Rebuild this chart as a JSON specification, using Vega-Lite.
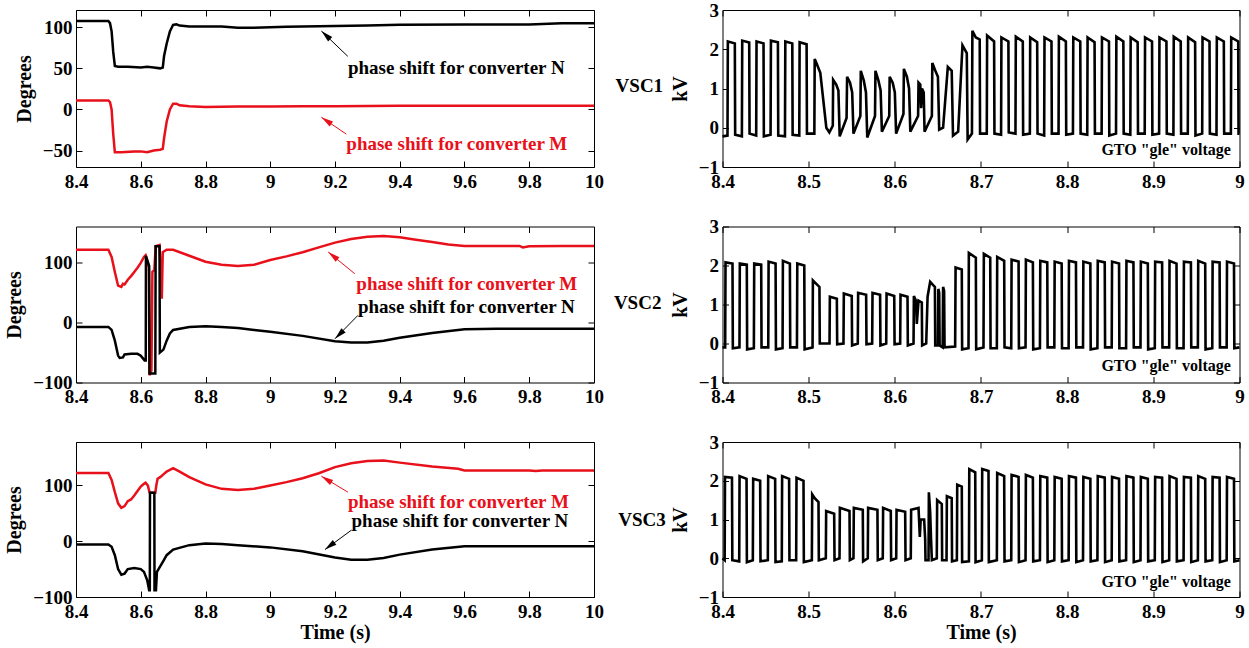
{
"$schema": "https://vega.github.io/schema/vega-lite/v6.json",
"background": "white",
"padding": {"left": 4, "top": 0, "right": 5, "bottom": 5},
"config": {
 "view": {"stroke": "#000000", "strokeWidth": 1},
 "axis": {"grid": false, "domain": false, "tickColor": "#000", "tickSize": -6, "tickWidth": 1, "labelFont": "Liberation Serif", "labelFontSize": 19, "labelFontWeight": "bold", "labelColor": "#000", "labelPadding": 10, "labelFlush": false, "labelOverlap": false, "titleFont": "Liberation Serif", "titleFontSize": 20, "titleFontWeight": "bold", "titleColor": "#000", "titlePadding": 8},
 "axisX": {"labelPadding": 11, "titlePadding": 1}
},
"datasets": {
 "L1": [
  {"t":8.4,"v":11,"s":"M"},{"t":8.5,"v":11,"s":"M"},{"t":8.505,"v":9,"s":"M"},{"t":8.51,"v":0,"s":"M"},{"t":8.515,"v":-30,"s":"M"},{"t":8.52,"v":-52,"s":"M"},{"t":8.54,"v":-52,"s":"M"},{"t":8.58,"v":-51,"s":"M"},{"t":8.6,"v":-51,"s":"M"},{"t":8.62,"v":-52,"s":"M"},{"t":8.64,"v":-50,"s":"M"},{"t":8.66,"v":-49,"s":"M"},{"t":8.668,"v":-48,"s":"M"},{"t":8.672,"v":-35,"s":"M"},{"t":8.68,"v":-15,"s":"M"},{"t":8.69,"v":0,"s":"M"},{"t":8.7,"v":7,"s":"M"},{"t":8.71,"v":7,"s":"M"},{"t":8.72,"v":5,"s":"M"},{"t":8.75,"v":4,"s":"M"},{"t":8.8,"v":3,"s":"M"},{"t":8.9,"v":3.5,"s":"M"},{"t":9,"v":3.5,"s":"M"},{"t":9.1,"v":4,"s":"M"},{"t":9.2,"v":4,"s":"M"},{"t":9.4,"v":4.5,"s":"M"},{"t":9.6,"v":4.5,"s":"M"},{"t":9.8,"v":4.5,"s":"M"},{"t":10,"v":4.5,"s":"M"},
  {"t":8.4,"v":107.5,"s":"N"},{"t":8.5,"v":107.5,"s":"N"},{"t":8.505,"v":105,"s":"N"},{"t":8.51,"v":95,"s":"N"},{"t":8.515,"v":70,"s":"N"},{"t":8.52,"v":53,"s":"N"},{"t":8.53,"v":52,"s":"N"},{"t":8.56,"v":52,"s":"N"},{"t":8.6,"v":51,"s":"N"},{"t":8.62,"v":52,"s":"N"},{"t":8.64,"v":51,"s":"N"},{"t":8.66,"v":50,"s":"N"},{"t":8.668,"v":51,"s":"N"},{"t":8.672,"v":65,"s":"N"},{"t":8.68,"v":80,"s":"N"},{"t":8.69,"v":95,"s":"N"},{"t":8.7,"v":103,"s":"N"},{"t":8.71,"v":103.5,"s":"N"},{"t":8.72,"v":102,"s":"N"},{"t":8.75,"v":101,"s":"N"},{"t":8.8,"v":101,"s":"N"},{"t":8.85,"v":101,"s":"N"},{"t":8.9,"v":99.5,"s":"N"},{"t":8.95,"v":99.5,"s":"N"},{"t":9,"v":100,"s":"N"},{"t":9.05,"v":100.5,"s":"N"},{"t":9.1,"v":101,"s":"N"},{"t":9.2,"v":101.5,"s":"N"},{"t":9.3,"v":102,"s":"N"},{"t":9.4,"v":103,"s":"N"},{"t":9.6,"v":103.5,"s":"N"},{"t":9.8,"v":103.5,"s":"N"},{"t":9.9,"v":105,"s":"N"},{"t":10,"v":105,"s":"N"}
 ],
 "L2": [
  {"t":8.4,"v":122,"s":"M"},{"t":8.5,"v":122,"s":"M"},{"t":8.51,"v":110,"s":"M"},{"t":8.52,"v":85,"s":"M"},{"t":8.53,"v":62,"s":"M"},{"t":8.54,"v":60,"s":"M"},{"t":8.545,"v":65,"s":"M"},{"t":8.55,"v":64,"s":"M"},{"t":8.56,"v":72,"s":"M"},{"t":8.57,"v":78,"s":"M"},{"t":8.58,"v":85,"s":"M"},{"t":8.59,"v":92,"s":"M"},{"t":8.6,"v":100,"s":"M"},{"t":8.61,"v":110,"s":"M"},{"t":8.615,"v":113,"s":"M"},{"t":8.625,"v":92,"s":"M"},{"t":8.627,"v":-88,"s":"M"},{"t":8.633,"v":-80,"s":"M"},{"t":8.636,"v":85,"s":"M"},{"t":8.642,"v":88,"s":"M"},{"t":8.646,"v":128,"s":"M"},{"t":8.658,"v":130,"s":"M"},{"t":8.665,"v":40,"s":"M"},{"t":8.668,"v":118,"s":"M"},{"t":8.68,"v":122,"s":"M"},{"t":8.7,"v":122,"s":"M"},{"t":8.75,"v":112,"s":"M"},{"t":8.8,"v":102,"s":"M"},{"t":8.85,"v":97,"s":"M"},{"t":8.9,"v":95,"s":"M"},{"t":8.95,"v":97,"s":"M"},{"t":9,"v":105,"s":"M"},{"t":9.05,"v":111,"s":"M"},{"t":9.1,"v":118,"s":"M"},{"t":9.15,"v":126,"s":"M"},{"t":9.2,"v":134,"s":"M"},{"t":9.25,"v":140,"s":"M"},{"t":9.3,"v":144,"s":"M"},{"t":9.35,"v":145,"s":"M"},{"t":9.4,"v":143,"s":"M"},{"t":9.45,"v":139,"s":"M"},{"t":9.5,"v":135,"s":"M"},{"t":9.55,"v":131,"s":"M"},{"t":9.6,"v":128.5,"s":"M"},{"t":9.7,"v":128.5,"s":"M"},{"t":9.77,"v":128.5,"s":"M"},{"t":9.78,"v":126,"s":"M"},{"t":9.8,"v":128,"s":"M"},{"t":9.9,"v":128.5,"s":"M"},{"t":10,"v":128.5,"s":"M"},
  {"t":8.4,"v":-7,"s":"N"},{"t":8.5,"v":-7,"s":"N"},{"t":8.51,"v":-12,"s":"N"},{"t":8.52,"v":-30,"s":"N"},{"t":8.53,"v":-55,"s":"N"},{"t":8.535,"v":-59,"s":"N"},{"t":8.545,"v":-58,"s":"N"},{"t":8.55,"v":-53,"s":"N"},{"t":8.57,"v":-52,"s":"N"},{"t":8.59,"v":-52,"s":"N"},{"t":8.6,"v":-55,"s":"N"},{"t":8.612,"v":-63,"s":"N"},{"t":8.6155,"v":-63,"s":"N"},{"t":8.616,"v":112,"s":"N"},{"t":8.626,"v":95,"s":"N"},{"t":8.627,"v":-85,"s":"N"},{"t":8.645,"v":-85,"s":"N"},{"t":8.646,"v":128,"s":"N"},{"t":8.658,"v":128,"s":"N"},{"t":8.659,"v":-50,"s":"N"},{"t":8.67,"v":-45,"s":"N"},{"t":8.68,"v":-30,"s":"N"},{"t":8.69,"v":-18,"s":"N"},{"t":8.7,"v":-12,"s":"N"},{"t":8.75,"v":-7,"s":"N"},{"t":8.8,"v":-6,"s":"N"},{"t":8.85,"v":-7,"s":"N"},{"t":8.9,"v":-9,"s":"N"},{"t":8.95,"v":-12,"s":"N"},{"t":9,"v":-15,"s":"N"},{"t":9.1,"v":-22,"s":"N"},{"t":9.2,"v":-31,"s":"N"},{"t":9.25,"v":-33,"s":"N"},{"t":9.3,"v":-33,"s":"N"},{"t":9.35,"v":-30,"s":"N"},{"t":9.4,"v":-25,"s":"N"},{"t":9.5,"v":-17,"s":"N"},{"t":9.6,"v":-11,"s":"N"},{"t":9.7,"v":-10,"s":"N"},{"t":9.8,"v":-10,"s":"N"},{"t":9.9,"v":-10,"s":"N"},{"t":10,"v":-10,"s":"N"}
 ],
 "L3": [
  {"t":8.4,"v":122.5,"s":"M"},{"t":8.5,"v":122.5,"s":"M"},{"t":8.51,"v":110,"s":"M"},{"t":8.52,"v":88,"s":"M"},{"t":8.53,"v":68,"s":"M"},{"t":8.54,"v":60,"s":"M"},{"t":8.55,"v":63,"s":"M"},{"t":8.56,"v":72,"s":"M"},{"t":8.57,"v":75,"s":"M"},{"t":8.58,"v":82,"s":"M"},{"t":8.59,"v":90,"s":"M"},{"t":8.6,"v":98,"s":"M"},{"t":8.61,"v":103,"s":"M"},{"t":8.615,"v":105,"s":"M"},{"t":8.622,"v":100,"s":"M"},{"t":8.626,"v":90,"s":"M"},{"t":8.628,"v":87,"s":"M"},{"t":8.645,"v":87,"s":"M"},{"t":8.648,"v":100,"s":"M"},{"t":8.652,"v":112,"s":"M"},{"t":8.66,"v":115,"s":"M"},{"t":8.67,"v":120,"s":"M"},{"t":8.68,"v":125,"s":"M"},{"t":8.7,"v":131,"s":"M"},{"t":8.72,"v":125,"s":"M"},{"t":8.75,"v":115,"s":"M"},{"t":8.8,"v":102,"s":"M"},{"t":8.85,"v":94,"s":"M"},{"t":8.9,"v":92,"s":"M"},{"t":8.95,"v":94,"s":"M"},{"t":9,"v":100,"s":"M"},{"t":9.05,"v":106,"s":"M"},{"t":9.1,"v":113,"s":"M"},{"t":9.15,"v":122,"s":"M"},{"t":9.2,"v":133,"s":"M"},{"t":9.25,"v":140,"s":"M"},{"t":9.3,"v":144,"s":"M"},{"t":9.35,"v":145,"s":"M"},{"t":9.4,"v":141,"s":"M"},{"t":9.5,"v":134,"s":"M"},{"t":9.58,"v":130,"s":"M"},{"t":9.6,"v":127,"s":"M"},{"t":9.7,"v":127,"s":"M"},{"t":9.8,"v":127,"s":"M"},{"t":9.82,"v":126,"s":"M"},{"t":9.84,"v":127,"s":"M"},{"t":10,"v":127,"s":"M"},
  {"t":8.4,"v":-6,"s":"N"},{"t":8.5,"v":-6,"s":"N"},{"t":8.51,"v":-10,"s":"N"},{"t":8.52,"v":-25,"s":"N"},{"t":8.53,"v":-50,"s":"N"},{"t":8.54,"v":-60,"s":"N"},{"t":8.55,"v":-58,"s":"N"},{"t":8.56,"v":-50,"s":"N"},{"t":8.58,"v":-48,"s":"N"},{"t":8.6,"v":-50,"s":"N"},{"t":8.61,"v":-55,"s":"N"},{"t":8.62,"v":-70,"s":"N"},{"t":8.626,"v":-88,"s":"N"},{"t":8.628,"v":-88,"s":"N"},{"t":8.6285,"v":87,"s":"N"},{"t":8.642,"v":87,"s":"N"},{"t":8.6425,"v":-88,"s":"N"},{"t":8.647,"v":-88,"s":"N"},{"t":8.65,"v":-55,"s":"N"},{"t":8.66,"v":-45,"s":"N"},{"t":8.67,"v":-35,"s":"N"},{"t":8.68,"v":-25,"s":"N"},{"t":8.7,"v":-15,"s":"N"},{"t":8.75,"v":-7,"s":"N"},{"t":8.8,"v":-4,"s":"N"},{"t":8.85,"v":-5,"s":"N"},{"t":8.9,"v":-7,"s":"N"},{"t":9,"v":-11,"s":"N"},{"t":9.1,"v":-18,"s":"N"},{"t":9.2,"v":-29,"s":"N"},{"t":9.25,"v":-33,"s":"N"},{"t":9.3,"v":-33,"s":"N"},{"t":9.35,"v":-30,"s":"N"},{"t":9.4,"v":-24,"s":"N"},{"t":9.5,"v":-15,"s":"N"},{"t":9.6,"v":-9,"s":"N"},{"t":9.7,"v":-9,"s":"N"},{"t":10,"v":-9,"s":"N"}
 ],
 "T1": [{"t":9.24,"v":51,"label":"phase shift for converter N","s":"N"},{"t":9.235,"v":-42.5,"label":"phase shift for converter M","s":"M"}],
 "A1": [{"t":9.2396,"v":64.6,"t2":9.158,"v2":95.4,"s":"N"},{"t":9.235,"v":-30,"t2":9.158,"v2":-9.5,"s":"M"}],
 "T2": [{"t":9.266,"v":65.3,"label":"phase shift for converter M","s":"M"},{"t":9.271,"v":26.3,"label":"phase shift for converter N","s":"N"}],
 "A2": [{"t":9.261,"v":82,"t2":9.179,"v2":118.4,"s":"M"},{"t":9.271,"v":12.4,"t2":9.2,"v2":-26.8,"s":"N"}],
 "T3": [{"t":9.24,"v":70,"label":"phase shift for converter M","s":"M"},{"t":9.251,"v":35.5,"label":"phase shift for converter N","s":"N"}],
 "A3": [{"t":9.24,"v":88,"t2":9.158,"v2":116.7,"s":"M"},{"t":9.251,"v":20,"t2":9.169,"v2":-15,"s":"N"}],
 "G1": [{"t":8.99,"v":-0.56,"label":"GTO \"gle\" voltage"}],
 "G2": [{"t":8.99,"v":-0.57,"label":"GTO \"gle\" voltage"}],
 "G3": [{"t":8.99,"v":-0.6,"label":"GTO \"gle\" voltage"}],
 "V1": [{"t":8.3035,"v":1.06,"label":"VSC1"}],
 "V2": [{"t":8.3015,"v":1.03,"label":"VSC2"}],
 "V3": [{"t":8.3065,"v":1.0,"label":"VSC3"}],
 "R1": [
  {"t":8.4,"v":-0.22},
  {"t":8.4058,"v":-0.2},{"t":8.4062,"v":2.2},{"t":8.4143,"v":2.15},{"t":8.4147,"v":-0.18},
  {"t":8.4225,"v":-0.22},{"t":8.4229,"v":2.22},{"t":8.431,"v":2.17},{"t":8.4314,"v":-0.15},
  {"t":8.4391,"v":-0.2},{"t":8.4395,"v":2.2},{"t":8.4476,"v":2.15},{"t":8.448,"v":-0.22},
  {"t":8.4558,"v":-0.18},{"t":8.4562,"v":2.22},{"t":8.4643,"v":2.18},{"t":8.4647,"v":-0.2},
  {"t":8.4725,"v":-0.22},{"t":8.4729,"v":2.2},{"t":8.481,"v":2.15},{"t":8.4814,"v":-0.18},
  {"t":8.4891,"v":-0.2},{"t":8.4895,"v":2.18},{"t":8.4976,"v":2.13},{"t":8.498,"v":-0.15},
  {"t":8.5066,"v":-0.15},{"t":8.507,"v":1.75},{"t":8.509,"v":1.65},{"t":8.5135,"v":1.4},{"t":8.5205,"v":0.0},{"t":8.524,"v":-0.12},
  {"t":8.528,"v":0.05},{"t":8.5284,"v":1.22},{"t":8.532,"v":1.1},{"t":8.5345,"v":0.95},{"t":8.536,"v":-0.22},
  {"t":8.544,"v":0.25},{"t":8.5446,"v":1.3},{"t":8.548,"v":1.15},{"t":8.5505,"v":0.9},{"t":8.552,"v":-0.15},
  {"t":8.56,"v":0.3},{"t":8.5605,"v":1.45},{"t":8.564,"v":1.2},{"t":8.5665,"v":0.9},{"t":8.568,"v":-0.25},
  {"t":8.577,"v":0.3},{"t":8.5775,"v":1.45},{"t":8.581,"v":1.2},{"t":8.5835,"v":0.95},{"t":8.585,"v":-0.1},
  {"t":8.5935,"v":0.3},{"t":8.594,"v":1.3},{"t":8.5975,"v":1.15},{"t":8.6,"v":0.9},{"t":8.6015,"v":-0.15},
  {"t":8.61,"v":0.35},{"t":8.6105,"v":1.5},{"t":8.614,"v":1.3},{"t":8.6165,"v":1.0},{"t":8.618,"v":-0.1},
  {"t":8.627,"v":0.3},{"t":8.6275,"v":1.15},{"t":8.6295,"v":1.1},{"t":8.6305,"v":0.5},{"t":8.6315,"v":1.0},{"t":8.6335,"v":0.9},{"t":8.6345,"v":-0.1},
  {"t":8.643,"v":0.3},{"t":8.6435,"v":1.65},{"t":8.647,"v":1.45},{"t":8.65,"v":1.3},{"t":8.6515,"v":-0.05},{"t":8.656,"v":0.0},
  {"t":8.6615,"v":1.55},{"t":8.666,"v":1.45},{"t":8.6675,"v":-0.2},{"t":8.6735,"v":-0.1},
  {"t":8.6785,"v":2.1},{"t":8.6835,"v":1.9},{"t":8.6845,"v":-0.3},{"t":8.6895,"v":-0.15},
  {"t":8.69,"v":2.47},{"t":8.694,"v":2.3},{"t":8.6985,"v":2.25},{"t":8.6989,"v":-0.15},
  {"t":8.7067,"v":-0.15},{"t":8.7071,"v":2.35},{"t":8.7152,"v":2.2},{"t":8.7156,"v":-0.15},
  {"t":8.7233,"v":-0.18},{"t":8.7237,"v":2.3},{"t":8.7318,"v":2.2},{"t":8.7322,"v":-0.12},
  {"t":8.74,"v":-0.15},{"t":8.7404,"v":2.32},{"t":8.7485,"v":2.2},{"t":8.7489,"v":-0.18},
  {"t":8.7567,"v":-0.15},{"t":8.7571,"v":2.3},{"t":8.7652,"v":2.18},{"t":8.7656,"v":-0.15},
  {"t":8.7733,"v":-0.2},{"t":8.7737,"v":2.3},{"t":8.7818,"v":2.2},{"t":8.7822,"v":-0.15},
  {"t":8.79,"v":-0.15},{"t":8.7904,"v":2.32},{"t":8.7985,"v":2.2},{"t":8.7989,"v":-0.18},
  {"t":8.8067,"v":-0.15},{"t":8.8071,"v":2.3},{"t":8.8152,"v":2.2},{"t":8.8156,"v":-0.15},
  {"t":8.8233,"v":-0.18},{"t":8.8237,"v":2.3},{"t":8.8318,"v":2.18},{"t":8.8322,"v":-0.15},
  {"t":8.84,"v":-0.15},{"t":8.8404,"v":2.3},{"t":8.8485,"v":2.2},{"t":8.8489,"v":-0.2},
  {"t":8.8567,"v":-0.15},{"t":8.8571,"v":2.32},{"t":8.8652,"v":2.2},{"t":8.8656,"v":-0.15},
  {"t":8.8733,"v":-0.18},{"t":8.8737,"v":2.3},{"t":8.8818,"v":2.18},{"t":8.8822,"v":-0.15},
  {"t":8.89,"v":-0.15},{"t":8.8904,"v":2.3},{"t":8.8985,"v":2.2},{"t":8.8989,"v":-0.18},
  {"t":8.9067,"v":-0.15},{"t":8.9071,"v":2.3},{"t":8.9152,"v":2.2},{"t":8.9156,"v":-0.15},
  {"t":8.9233,"v":-0.18},{"t":8.9237,"v":2.32},{"t":8.9318,"v":2.2},{"t":8.9322,"v":-0.15},
  {"t":8.94,"v":-0.15},{"t":8.9404,"v":2.3},{"t":8.9485,"v":2.18},{"t":8.9489,"v":-0.2},
  {"t":8.9567,"v":-0.15},{"t":8.9571,"v":2.3},{"t":8.9652,"v":2.2},{"t":8.9656,"v":-0.15},
  {"t":8.9733,"v":-0.18},{"t":8.9737,"v":2.3},{"t":8.9818,"v":2.2},{"t":8.9822,"v":-0.15},
  {"t":8.99,"v":-0.15},{"t":8.9904,"v":2.3},{"t":8.9985,"v":2.2},{"t":8.9989,"v":-0.15},{"t":9.0,"v":-0.15}
 ],
 "R2": [
  {"t":8.4,"v":-0.1},
  {"t":8.4031,"v":-0.1},{"t":8.4035,"v":2.08},{"t":8.4116,"v":2.05},{"t":8.412,"v":-0.12},
  {"t":8.4197,"v":-0.1},{"t":8.4201,"v":2.05},{"t":8.4282,"v":2.02},{"t":8.4286,"v":-0.15},
  {"t":8.4364,"v":-0.12},{"t":8.4368,"v":2.05},{"t":8.4449,"v":2.02},{"t":8.4453,"v":-0.1},
  {"t":8.4531,"v":-0.1},{"t":8.4535,"v":2.1},{"t":8.4616,"v":2.05},{"t":8.462,"v":-0.15},
  {"t":8.4697,"v":-0.12},{"t":8.4701,"v":2.12},{"t":8.4782,"v":2.05},{"t":8.4786,"v":-0.1},
  {"t":8.4864,"v":-0.1},{"t":8.4868,"v":2.05},{"t":8.4949,"v":2.0},{"t":8.4953,"v":-0.15},
  {"t":8.5045,"v":-0.1},{"t":8.5049,"v":1.62},{"t":8.508,"v":1.55},{"t":8.5125,"v":1.45},{"t":8.5129,"v":0.0},
  {"t":8.5242,"v":0.0},{"t":8.5246,"v":1.2},{"t":8.5327,"v":1.15},{"t":8.5331,"v":-0.02},
  {"t":8.5404,"v":0.0},{"t":8.5408,"v":1.28},{"t":8.55,"v":1.22},{"t":8.5504,"v":-0.05},
  {"t":8.557,"v":0.0},{"t":8.5574,"v":1.3},{"t":8.5667,"v":1.25},{"t":8.5671,"v":-0.02},
  {"t":8.5737,"v":0.0},{"t":8.5741,"v":1.3},{"t":8.5829,"v":1.25},{"t":8.5833,"v":-0.05},
  {"t":8.59,"v":0.0},{"t":8.5904,"v":1.28},{"t":8.5993,"v":1.22},{"t":8.5997,"v":-0.02},
  {"t":8.6062,"v":0.0},{"t":8.6066,"v":1.25},{"t":8.6147,"v":1.2},{"t":8.6151,"v":-0.05},
  {"t":8.6217,"v":0.0},{"t":8.6221,"v":1.22},{"t":8.6245,"v":1.1},{"t":8.6255,"v":0.5},{"t":8.6275,"v":1.1},{"t":8.6313,"v":1.05},{"t":8.6317,"v":-0.05},
  {"t":8.6364,"v":0.0},{"t":8.638,"v":1.2},{"t":8.641,"v":1.58},{"t":8.6465,"v":1.45},{"t":8.6469,"v":-0.05},
  {"t":8.65,"v":-0.05},{"t":8.6505,"v":1.4},{"t":8.6515,"v":1.3},{"t":8.652,"v":-0.05},
  {"t":8.6555,"v":-0.1},{"t":8.656,"v":1.45},{"t":8.6572,"v":1.35},{"t":8.6577,"v":-0.1},
  {"t":8.67,"v":-0.08},{"t":8.6705,"v":1.95},{"t":8.6777,"v":1.9},{"t":8.6781,"v":-0.15},
  {"t":8.6855,"v":-0.12},{"t":8.6859,"v":2.32},{"t":8.694,"v":2.2},{"t":8.6944,"v":-0.15},
  {"t":8.7029,"v":-0.1},{"t":8.7033,"v":2.3},{"t":8.7107,"v":2.2},{"t":8.7111,"v":-0.12},
  {"t":8.7184,"v":-0.12},{"t":8.7188,"v":2.22},{"t":8.7269,"v":2.12},{"t":8.7273,"v":-0.1},
  {"t":8.7351,"v":-0.12},{"t":8.7355,"v":2.15},{"t":8.7436,"v":2.1},{"t":8.744,"v":-0.12},
  {"t":8.7517,"v":-0.1},{"t":8.7521,"v":2.15},{"t":8.7602,"v":2.08},{"t":8.7606,"v":-0.15},
  {"t":8.7684,"v":-0.12},{"t":8.7688,"v":2.12},{"t":8.7769,"v":2.08},{"t":8.7773,"v":-0.1},
  {"t":8.7851,"v":-0.1},{"t":8.7855,"v":2.1},{"t":8.7936,"v":2.05},{"t":8.794,"v":-0.12},
  {"t":8.8017,"v":-0.12},{"t":8.8021,"v":2.12},{"t":8.8102,"v":2.08},{"t":8.8106,"v":-0.1},
  {"t":8.8184,"v":-0.1},{"t":8.8188,"v":2.1},{"t":8.8269,"v":2.05},{"t":8.8273,"v":-0.15},
  {"t":8.8351,"v":-0.12},{"t":8.8355,"v":2.12},{"t":8.8436,"v":2.08},{"t":8.844,"v":-0.1},
  {"t":8.8517,"v":-0.1},{"t":8.8521,"v":2.1},{"t":8.8602,"v":2.05},{"t":8.8606,"v":-0.12},
  {"t":8.8684,"v":-0.12},{"t":8.8688,"v":2.12},{"t":8.8769,"v":2.08},{"t":8.8773,"v":-0.1},
  {"t":8.8851,"v":-0.1},{"t":8.8855,"v":2.1},{"t":8.8936,"v":2.05},{"t":8.894,"v":-0.15},
  {"t":8.9017,"v":-0.12},{"t":8.9021,"v":2.1},{"t":8.9102,"v":2.08},{"t":8.9106,"v":-0.1},
  {"t":8.9184,"v":-0.1},{"t":8.9188,"v":2.12},{"t":8.9269,"v":2.05},{"t":8.9273,"v":-0.12},
  {"t":8.9351,"v":-0.12},{"t":8.9355,"v":2.1},{"t":8.9436,"v":2.08},{"t":8.944,"v":-0.1},
  {"t":8.9517,"v":-0.1},{"t":8.9521,"v":2.12},{"t":8.9602,"v":2.05},{"t":8.9606,"v":-0.15},
  {"t":8.9684,"v":-0.12},{"t":8.9688,"v":2.1},{"t":8.9769,"v":2.08},{"t":8.9773,"v":-0.1},
  {"t":8.9851,"v":-0.1},{"t":8.9855,"v":2.1},{"t":8.9936,"v":2.05},{"t":8.994,"v":-0.12},
  {"t":9.0,"v":-0.1}
 ],
 "R3": [
  {"t":8.4,"v":0.0},
  {"t":8.4025,"v":-0.05},{"t":8.4029,"v":2.1},{"t":8.411,"v":2.08},{"t":8.4114,"v":-0.05},
  {"t":8.4194,"v":-0.08},{"t":8.4198,"v":2.12},{"t":8.4279,"v":2.05},{"t":8.4283,"v":-0.1},
  {"t":8.4352,"v":-0.05},{"t":8.4356,"v":2.05},{"t":8.4437,"v":2.0},{"t":8.4441,"v":-0.08},
  {"t":8.4526,"v":-0.05},{"t":8.453,"v":2.12},{"t":8.4611,"v":2.05},{"t":8.4615,"v":-0.1},
  {"t":8.4688,"v":-0.08},{"t":8.4692,"v":2.12},{"t":8.4773,"v":2.05},{"t":8.4777,"v":-0.05},
  {"t":8.4855,"v":-0.05},{"t":8.4859,"v":2.08},{"t":8.494,"v":2.0},{"t":8.4944,"v":-0.1},
  {"t":8.5037,"v":-0.05},{"t":8.5041,"v":1.65},{"t":8.507,"v":1.55},{"t":8.5114,"v":1.45},{"t":8.5118,"v":-0.05},
  {"t":8.5199,"v":0.0},{"t":8.5203,"v":1.22},{"t":8.5296,"v":1.15},{"t":8.53,"v":-0.05},
  {"t":8.5358,"v":0.0},{"t":8.5362,"v":1.3},{"t":8.5474,"v":1.22},{"t":8.5478,"v":-0.05},
  {"t":8.552,"v":0.0},{"t":8.5524,"v":1.3},{"t":8.5628,"v":1.25},{"t":8.5632,"v":-0.08},
  {"t":8.5686,"v":0.0},{"t":8.569,"v":1.3},{"t":8.5798,"v":1.25},{"t":8.5802,"v":-0.05},
  {"t":8.586,"v":0.0},{"t":8.5864,"v":1.3},{"t":8.5953,"v":1.22},{"t":8.5957,"v":-0.05},
  {"t":8.6016,"v":0.0},{"t":8.602,"v":1.25},{"t":8.612,"v":1.2},{"t":8.6124,"v":-0.05},
  {"t":8.6185,"v":0.0},{"t":8.6189,"v":1.25},{"t":8.6275,"v":1.3},{"t":8.629,"v":0.55},{"t":8.63,"v":1.0},{"t":8.634,"v":1.0},{"t":8.6352,"v":0.5},{"t":8.6356,"v":-0.05},
  {"t":8.6391,"v":-0.05},{"t":8.6395,"v":1.7},{"t":8.641,"v":1.2},{"t":8.642,"v":0.5},{"t":8.643,"v":-0.05},
  {"t":8.6487,"v":0.0},{"t":8.6491,"v":1.5},{"t":8.6545,"v":1.4},{"t":8.6549,"v":-0.05},
  {"t":8.66,"v":-0.05},{"t":8.6604,"v":1.6},{"t":8.666,"v":1.55},{"t":8.6664,"v":-0.08},
  {"t":8.672,"v":-0.05},{"t":8.6724,"v":1.9},{"t":8.6777,"v":1.85},{"t":8.6781,"v":-0.1},
  {"t":8.686,"v":-0.08},{"t":8.6864,"v":2.3},{"t":8.6933,"v":2.22},{"t":8.6937,"v":-0.1},
  {"t":8.701,"v":-0.05},{"t":8.7014,"v":2.3},{"t":8.7087,"v":2.25},{"t":8.7091,"v":-0.1},
  {"t":8.7184,"v":-0.05},{"t":8.7188,"v":2.2},{"t":8.7269,"v":2.12},{"t":8.7273,"v":-0.08},
  {"t":8.7351,"v":-0.05},{"t":8.7355,"v":2.15},{"t":8.7436,"v":2.1},{"t":8.744,"v":-0.1},
  {"t":8.7517,"v":-0.05},{"t":8.7521,"v":2.15},{"t":8.7602,"v":2.08},{"t":8.7606,"v":-0.08},
  {"t":8.7684,"v":-0.05},{"t":8.7688,"v":2.12},{"t":8.7769,"v":2.08},{"t":8.7773,"v":-0.1},
  {"t":8.7851,"v":-0.05},{"t":8.7855,"v":2.1},{"t":8.7936,"v":2.05},{"t":8.794,"v":-0.08},
  {"t":8.8017,"v":-0.05},{"t":8.8021,"v":2.12},{"t":8.8102,"v":2.08},{"t":8.8106,"v":-0.1},
  {"t":8.8184,"v":-0.05},{"t":8.8188,"v":2.1},{"t":8.8269,"v":2.05},{"t":8.8273,"v":-0.08},
  {"t":8.8351,"v":-0.05},{"t":8.8355,"v":2.12},{"t":8.8436,"v":2.08},{"t":8.844,"v":-0.1},
  {"t":8.8517,"v":-0.05},{"t":8.8521,"v":2.1},{"t":8.8602,"v":2.05},{"t":8.8606,"v":-0.08},
  {"t":8.8684,"v":-0.05},{"t":8.8688,"v":2.12},{"t":8.8769,"v":2.08},{"t":8.8773,"v":-0.1},
  {"t":8.8851,"v":-0.05},{"t":8.8855,"v":2.1},{"t":8.8936,"v":2.05},{"t":8.894,"v":-0.08},
  {"t":8.9017,"v":-0.05},{"t":8.9021,"v":2.1},{"t":8.9102,"v":2.08},{"t":8.9106,"v":-0.1},
  {"t":8.9184,"v":-0.05},{"t":8.9188,"v":2.12},{"t":8.9269,"v":2.05},{"t":8.9273,"v":-0.08},
  {"t":8.9351,"v":-0.05},{"t":8.9355,"v":2.1},{"t":8.9436,"v":2.08},{"t":8.944,"v":-0.1},
  {"t":8.9517,"v":-0.05},{"t":8.9521,"v":2.12},{"t":8.9602,"v":2.05},{"t":8.9606,"v":-0.08},
  {"t":8.9684,"v":-0.05},{"t":8.9688,"v":2.1},{"t":8.9769,"v":2.08},{"t":8.9773,"v":-0.1},
  {"t":8.9851,"v":-0.05},{"t":8.9855,"v":2.1},{"t":8.9936,"v":2.05},{"t":8.994,"v":-0.08},
  {"t":9.0,"v":-0.05}
 ]
},
"columns": 2,
"spacing": {"row": 59.5, "column": 128.5},
"bounds": "flush",
"concat": [
 {
  "width": 518, "height": 157,
  "resolve": {"axis": {"x": "independent", "y": "independent"}},
  "layer": [
   {"data": {"name": "L1"}, "mark": {"type": "line", "strokeWidth": 2.5},
    "encoding": {
     "x": {"field": "t", "type": "quantitative", "scale": {"domain": [8.4, 10], "nice": false, "zero": false}, "axis": {"values": [8.4,8.6,8.8,9,9.2,9.4,9.6,9.8,10], "format": ".1~f", "title": null}},
     "y": {"field": "v", "type": "quantitative", "scale": {"domain": [-70, 121], "nice": false, "zero": false}, "axis": {"values": [-50,0,50,100], "title": "Degrees"}},
     "color": {"field": "s", "type": "nominal", "scale": {"domain": ["M","N"], "range": ["#e8101a","#000000"]}, "legend": null}}},
   {"data": {"name": "T1"}, "mark": {"type": "text", "align": "left", "baseline": "middle", "fontSize": 19, "font": "Liberation Serif", "fontWeight": "bold"},
    "encoding": {
     "x": {"field": "t", "type": "quantitative", "scale": {"domain": [8.4, 10], "nice": false, "zero": false}, "axis": {"orient": "top", "labels": false, "title": null, "values": [8.4,8.6,8.8,9,9.2,9.4,9.6,9.8,10]}},
     "y": {"field": "v", "type": "quantitative", "scale": {"domain": [-70, 121], "nice": false, "zero": false}, "axis": {"orient": "right", "labels": false, "title": null, "values": [-50,0,50,100]}},
     "text": {"field": "label"},
     "color": {"field": "s", "type": "nominal", "legend": null}}},
   {"data": {"name": "A1"}, "mark": {"type": "rule", "strokeWidth": 1},
    "encoding": {
     "x": {"field": "t", "type": "quantitative", "scale": {"domain": [8.4, 10], "nice": false, "zero": false}, "axis": null},
     "y": {"field": "v", "type": "quantitative", "scale": {"domain": [-70, 121], "nice": false, "zero": false}, "axis": null},
     "x2": {"field": "t2"}, "y2": {"field": "v2"},
     "color": {"field": "s", "type": "nominal", "legend": null}}},
   {"data": {"name": "A1"}, "transform": [{"filter": "datum.s === 'N'"}], "mark": {"type": "point", "shape": "M0,0L0.6,2.4L-0.6,2.4Z", "filled": true, "size": 100, "angle": 313, "opacity": 1, "strokeWidth": 0},
    "encoding": {
     "x": {"field": "t2", "type": "quantitative", "scale": {"domain": [8.4, 10], "nice": false, "zero": false}, "axis": null},
     "y": {"field": "v2", "type": "quantitative", "scale": {"domain": [-70, 121], "nice": false, "zero": false}, "axis": null},
     "color": {"field": "s", "type": "nominal", "legend": null}}},
   {"data": {"name": "A1"}, "transform": [{"filter": "datum.s === 'M'"}], "mark": {"type": "point", "shape": "M0,0L0.6,2.4L-0.6,2.4Z", "filled": true, "size": 100, "angle": 304, "opacity": 1, "strokeWidth": 0},
    "encoding": {
     "x": {"field": "t2", "type": "quantitative", "scale": {"domain": [8.4, 10], "nice": false, "zero": false}, "axis": null},
     "y": {"field": "v2", "type": "quantitative", "scale": {"domain": [-70, 121], "nice": false, "zero": false}, "axis": null},
     "color": {"field": "s", "type": "nominal", "legend": null}}}
  ]
 },
 {
  "width": 517, "height": 157,
  "resolve": {"axis": {"x": "independent", "y": "independent"}},
  "layer": [
   {"data": {"name": "R1"}, "mark": {"type": "line", "strokeWidth": 2.6, "color": "#000"},
    "encoding": {
     "x": {"field": "t", "type": "quantitative", "scale": {"domain": [8.4, 9], "nice": false, "zero": false}, "axis": {"values": [8.4,8.5,8.6,8.7,8.8,8.9,9], "format": ".1~f", "title": null}},
     "y": {"field": "v", "type": "quantitative", "scale": {"domain": [-1, 3], "nice": false, "zero": false}, "axis": {"values": [-1,0,1,2,3], "title": "kV", "titlePadding": 8}}}},
   {"data": {"name": "G1"}, "mark": {"type": "text", "align": "right", "baseline": "middle", "fontSize": 16, "font": "Liberation Serif", "fontWeight": "bold", "color": "#000"},
    "encoding": {
     "x": {"field": "t", "type": "quantitative", "scale": {"domain": [8.4, 9], "nice": false, "zero": false}, "axis": {"orient": "top", "labels": false, "title": null, "values": [8.4,8.5,8.6,8.7,8.8,8.9,9]}},
     "y": {"field": "v", "type": "quantitative", "scale": {"domain": [-1, 3], "nice": false, "zero": false}, "axis": {"orient": "right", "labels": false, "title": null, "values": [-1,0,1,2,3]}},
     "text": {"field": "label"}}},
   {"data": {"name": "V1"}, "mark": {"type": "text", "align": "center", "baseline": "middle", "fontSize": 19, "font": "Liberation Serif", "fontWeight": "bold", "color": "#000"},
    "encoding": {
     "x": {"field": "t", "type": "quantitative", "scale": {"domain": [8.4, 9], "nice": false, "zero": false}, "axis": null},
     "y": {"field": "v", "type": "quantitative", "scale": {"domain": [-1, 3], "nice": false, "zero": false}, "axis": null},
     "text": {"field": "label"}}}
  ]
 },
 {
  "width": 518, "height": 156,
  "resolve": {"axis": {"x": "independent", "y": "independent"}},
  "layer": [
   {"data": {"name": "L2"}, "mark": {"type": "line", "strokeWidth": 2.5},
    "encoding": {
     "x": {"field": "t", "type": "quantitative", "scale": {"domain": [8.4, 10], "nice": false, "zero": false}, "axis": {"values": [8.4,8.6,8.8,9,9.2,9.4,9.6,9.8,10], "format": ".1~f", "title": null}},
     "y": {"field": "v", "type": "quantitative", "scale": {"domain": [-100, 161], "nice": false, "zero": false}, "axis": {"values": [-100,0,100], "title": "Degrees"}},
     "color": {"field": "s", "type": "nominal", "scale": {"domain": ["M","N"], "range": ["#e8101a","#000000"]}, "legend": null}}},
   {"data": {"name": "T2"}, "mark": {"type": "text", "align": "left", "baseline": "middle", "fontSize": 19, "font": "Liberation Serif", "fontWeight": "bold"},
    "encoding": {
     "x": {"field": "t", "type": "quantitative", "scale": {"domain": [8.4, 10], "nice": false, "zero": false}, "axis": {"orient": "top", "labels": false, "title": null, "values": [8.4,8.6,8.8,9,9.2,9.4,9.6,9.8,10]}},
     "y": {"field": "v", "type": "quantitative", "scale": {"domain": [-100, 161], "nice": false, "zero": false}, "axis": {"orient": "right", "labels": false, "title": null, "values": [-100,0,100]}},
     "text": {"field": "label"},
     "color": {"field": "s", "type": "nominal", "legend": null}}},
   {"data": {"name": "A2"}, "mark": {"type": "rule", "strokeWidth": 1},
    "encoding": {
     "x": {"field": "t", "type": "quantitative", "scale": {"domain": [8.4, 10], "nice": false, "zero": false}, "axis": null},
     "y": {"field": "v", "type": "quantitative", "scale": {"domain": [-100, 161], "nice": false, "zero": false}, "axis": null},
     "x2": {"field": "t2"}, "y2": {"field": "v2"},
     "color": {"field": "s", "type": "nominal", "legend": null}}},
   {"data": {"name": "A2"}, "transform": [{"filter": "datum.s === 'M'"}], "mark": {"type": "point", "shape": "M0,0L0.6,2.4L-0.6,2.4Z", "filled": true, "size": 100, "angle": 309, "opacity": 1, "strokeWidth": 0},
    "encoding": {
     "x": {"field": "t2", "type": "quantitative", "scale": {"domain": [8.4, 10], "nice": false, "zero": false}, "axis": null},
     "y": {"field": "v2", "type": "quantitative", "scale": {"domain": [-100, 161], "nice": false, "zero": false}, "axis": null},
     "color": {"field": "s", "type": "nominal", "legend": null}}},
   {"data": {"name": "A2"}, "transform": [{"filter": "datum.s === 'N'"}], "mark": {"type": "point", "shape": "M0,0L0.6,2.4L-0.6,2.4Z", "filled": true, "size": 100, "angle": 225, "opacity": 1, "strokeWidth": 0},
    "encoding": {
     "x": {"field": "t2", "type": "quantitative", "scale": {"domain": [8.4, 10], "nice": false, "zero": false}, "axis": null},
     "y": {"field": "v2", "type": "quantitative", "scale": {"domain": [-100, 161], "nice": false, "zero": false}, "axis": null},
     "color": {"field": "s", "type": "nominal", "legend": null}}}
  ]
 },
 {
  "width": 517, "height": 156,
  "resolve": {"axis": {"x": "independent", "y": "independent"}},
  "layer": [
   {"data": {"name": "R2"}, "mark": {"type": "line", "strokeWidth": 2.6, "color": "#000"},
    "encoding": {
     "x": {"field": "t", "type": "quantitative", "scale": {"domain": [8.4, 9], "nice": false, "zero": false}, "axis": {"values": [8.4,8.5,8.6,8.7,8.8,8.9,9], "format": ".1~f", "title": null}},
     "y": {"field": "v", "type": "quantitative", "scale": {"domain": [-1, 3], "nice": false, "zero": false}, "axis": {"values": [-1,0,1,2,3], "title": "kV", "titlePadding": 8}}}},
   {"data": {"name": "G2"}, "mark": {"type": "text", "align": "right", "baseline": "middle", "fontSize": 16, "font": "Liberation Serif", "fontWeight": "bold", "color": "#000"},
    "encoding": {
     "x": {"field": "t", "type": "quantitative", "scale": {"domain": [8.4, 9], "nice": false, "zero": false}, "axis": {"orient": "top", "labels": false, "title": null, "values": [8.4,8.5,8.6,8.7,8.8,8.9,9]}},
     "y": {"field": "v", "type": "quantitative", "scale": {"domain": [-1, 3], "nice": false, "zero": false}, "axis": {"orient": "right", "labels": false, "title": null, "values": [-1,0,1,2,3]}},
     "text": {"field": "label"}}},
   {"data": {"name": "V2"}, "mark": {"type": "text", "align": "center", "baseline": "middle", "fontSize": 19, "font": "Liberation Serif", "fontWeight": "bold", "color": "#000"},
    "encoding": {
     "x": {"field": "t", "type": "quantitative", "scale": {"domain": [8.4, 9], "nice": false, "zero": false}, "axis": null},
     "y": {"field": "v", "type": "quantitative", "scale": {"domain": [-1, 3], "nice": false, "zero": false}, "axis": null},
     "text": {"field": "label"}}}
  ]
 },
 {
  "width": 518, "height": 155,
  "resolve": {"axis": {"x": "independent", "y": "independent"}},
  "layer": [
   {"data": {"name": "L3"}, "mark": {"type": "line", "strokeWidth": 2.5},
    "encoding": {
     "x": {"field": "t", "type": "quantitative", "scale": {"domain": [8.4, 10], "nice": false, "zero": false}, "axis": {"values": [8.4,8.6,8.8,9,9.2,9.4,9.6,9.8,10], "format": ".1~f", "title": "Time (s)"}},
     "y": {"field": "v", "type": "quantitative", "scale": {"domain": [-100, 178], "nice": false, "zero": false}, "axis": {"values": [-100,0,100], "title": "Degrees"}},
     "color": {"field": "s", "type": "nominal", "scale": {"domain": ["M","N"], "range": ["#e8101a","#000000"]}, "legend": null}}},
   {"data": {"name": "T3"}, "mark": {"type": "text", "align": "left", "baseline": "middle", "fontSize": 19, "font": "Liberation Serif", "fontWeight": "bold"},
    "encoding": {
     "x": {"field": "t", "type": "quantitative", "scale": {"domain": [8.4, 10], "nice": false, "zero": false}, "axis": {"orient": "top", "labels": false, "title": null, "values": [8.4,8.6,8.8,9,9.2,9.4,9.6,9.8,10]}},
     "y": {"field": "v", "type": "quantitative", "scale": {"domain": [-100, 178], "nice": false, "zero": false}, "axis": {"orient": "right", "labels": false, "title": null, "values": [-100,0,100]}},
     "text": {"field": "label"},
     "color": {"field": "s", "type": "nominal", "legend": null}}},
   {"data": {"name": "A3"}, "mark": {"type": "rule", "strokeWidth": 1},
    "encoding": {
     "x": {"field": "t", "type": "quantitative", "scale": {"domain": [8.4, 10], "nice": false, "zero": false}, "axis": null},
     "y": {"field": "v", "type": "quantitative", "scale": {"domain": [-100, 178], "nice": false, "zero": false}, "axis": null},
     "x2": {"field": "t2"}, "y2": {"field": "v2"},
     "color": {"field": "s", "type": "nominal", "legend": null}}},
   {"data": {"name": "A3"}, "transform": [{"filter": "datum.s === 'M'"}], "mark": {"type": "point", "shape": "M0,0L0.6,2.4L-0.6,2.4Z", "filled": true, "size": 100, "angle": 302, "opacity": 1, "strokeWidth": 0},
    "encoding": {
     "x": {"field": "t2", "type": "quantitative", "scale": {"domain": [8.4, 10], "nice": false, "zero": false}, "axis": null},
     "y": {"field": "v2", "type": "quantitative", "scale": {"domain": [-100, 178], "nice": false, "zero": false}, "axis": null},
     "color": {"field": "s", "type": "nominal", "legend": null}}},
   {"data": {"name": "A3"}, "transform": [{"filter": "datum.s === 'N'"}], "mark": {"type": "point", "shape": "M0,0L0.6,2.4L-0.6,2.4Z", "filled": true, "size": 100, "angle": 233, "opacity": 1, "strokeWidth": 0},
    "encoding": {
     "x": {"field": "t2", "type": "quantitative", "scale": {"domain": [8.4, 10], "nice": false, "zero": false}, "axis": null},
     "y": {"field": "v2", "type": "quantitative", "scale": {"domain": [-100, 178], "nice": false, "zero": false}, "axis": null},
     "color": {"field": "s", "type": "nominal", "legend": null}}}
  ]
 },
 {
  "width": 517, "height": 155,
  "resolve": {"axis": {"x": "independent", "y": "independent"}},
  "layer": [
   {"data": {"name": "R3"}, "mark": {"type": "line", "strokeWidth": 2.6, "color": "#000"},
    "encoding": {
     "x": {"field": "t", "type": "quantitative", "scale": {"domain": [8.4, 9], "nice": false, "zero": false}, "axis": {"values": [8.4,8.5,8.6,8.7,8.8,8.9,9], "format": ".1~f", "title": "Time (s)"}},
     "y": {"field": "v", "type": "quantitative", "scale": {"domain": [-1, 3], "nice": false, "zero": false}, "axis": {"values": [-1,0,1,2,3], "title": "kV", "titlePadding": 8}}}},
   {"data": {"name": "G3"}, "mark": {"type": "text", "align": "right", "baseline": "middle", "fontSize": 16, "font": "Liberation Serif", "fontWeight": "bold", "color": "#000"},
    "encoding": {
     "x": {"field": "t", "type": "quantitative", "scale": {"domain": [8.4, 9], "nice": false, "zero": false}, "axis": {"orient": "top", "labels": false, "title": null, "values": [8.4,8.5,8.6,8.7,8.8,8.9,9]}},
     "y": {"field": "v", "type": "quantitative", "scale": {"domain": [-1, 3], "nice": false, "zero": false}, "axis": {"orient": "right", "labels": false, "title": null, "values": [-1,0,1,2,3]}},
     "text": {"field": "label"}}},
   {"data": {"name": "V3"}, "mark": {"type": "text", "align": "center", "baseline": "middle", "fontSize": 19, "font": "Liberation Serif", "fontWeight": "bold", "color": "#000"},
    "encoding": {
     "x": {"field": "t", "type": "quantitative", "scale": {"domain": [8.4, 9], "nice": false, "zero": false}, "axis": null},
     "y": {"field": "v", "type": "quantitative", "scale": {"domain": [-1, 3], "nice": false, "zero": false}, "axis": null},
     "text": {"field": "label"}}}
  ]
 }
]
}
